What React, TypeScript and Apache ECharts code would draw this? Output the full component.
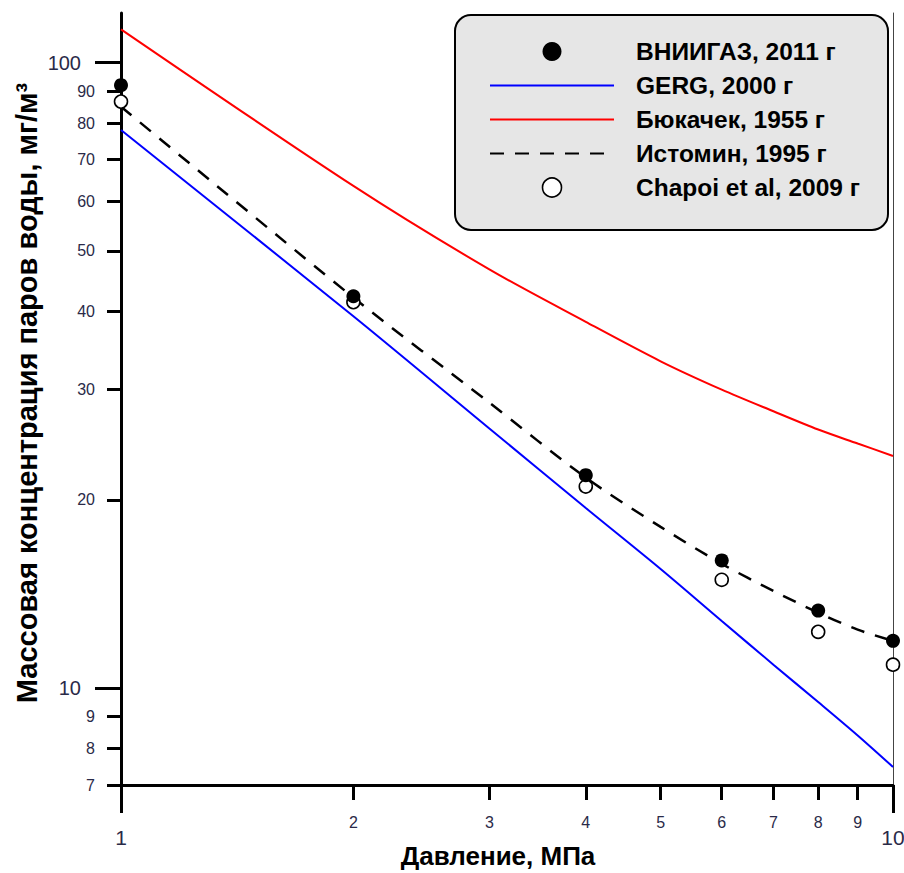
import React, { useEffect, useRef } from "react";
import * as echarts from "echarts";

// ---- data ----
const pressure = [1, 2, 3, 4, 5, 6, 7, 8, 9, 10];
const pointPressure = [1, 2, 4, 6, 8, 10];
const vniigazValues = [92, 42.3, 21.9, 16.0, 13.3, 11.9];
const chapoiValues = [86.6, 41.4, 21.0, 14.9, 12.3, 10.9];
const gergValues = [78, 39.3, 26, 19.4, 15.5, 12.8, 10.9, 9.5, 8.4, 7.48];
const bukachekValues = [113, 63.5, 46.7, 38.5, 33.3, 30.0, 27.7, 25.9, 24.6, 23.5];
const istominValues = [85, 42.1, 28.6, 21.7, 18.1, 15.8, 14.3, 13.2, 12.4, 11.9];

const xMajorTicks = [1, 10];
const xMinorTicks = [2, 3, 4, 5, 6, 7, 8, 9];
const yMajorTicks = [10, 100];
const yMinorTicks = [7, 8, 9, 20, 30, 40, 50, 60, 70, 80, 90];

const seriesNames = [
  "ВНИИГАЗ, 2011 г",
  "GERG, 2000 г",
  "Бюкачек, 1955 г",
  "Истомин, 1995 г",
  "Chapoi et al, 2009 г",
];

const xTitle = "Давление, МПа";
const yTitle = "Массовая концентрация паров воды, мг/м³";

const FONT = "'Liberation Sans', Arial, sans-serif";
const LABEL_COLOR = "#2a2a48";

const zip = (xs: number[], ys: number[]) => xs.map((x, i) => [x, ys[i]]);

export default function App() {
  const ref = useRef<HTMLDivElement>(null);

  useEffect(() => {
    if (!ref.current) return;
    const chart = echarts.init(ref.current, null, { renderer: "svg" });

    const xBase = { type: "log", logBase: 10, min: 1, max: 10, gridIndex: 0, position: "bottom", splitLine: { show: false } };
    const yBase = { type: "log", logBase: 10, min: 7, max: 120, gridIndex: 0, splitLine: { show: false } };
    const intLabel = (v: number) => String(Math.round(v));

    const option: any = {
      animation: false,
      backgroundColor: "#fff",
      grid: { left: 121, right: 11, top: 13, bottom: 88, containLabel: false, outerBoundsMode: "none" },
      xAxis: [
        {
          ...xBase,
          name: xTitle,
          nameLocation: "middle",
          nameGap: 58,
          nameMoveOverlap: false,
          nameTextStyle: { fontFamily: FONT, fontWeight: "bold", fontSize: 26, color: "#000", padding: [0, 18, 0, 0] },
          axisLine: { show: true, lineStyle: { color: "#000", width: 3 } },
          axisTick: { show: true, customValues: xMajorTicks, length: 28, lineStyle: { color: "#000", width: 3 } },
          axisLabel: { show: true, customValues: xMajorTicks, margin: 42, fontFamily: FONT, fontSize: 21, color: LABEL_COLOR, formatter: intLabel },
        },
        {
          ...xBase,
          axisLine: { show: false },
          axisTick: { show: true, customValues: xMinorTicks, length: 15, lineStyle: { color: "#000", width: 3 } },
          axisLabel: { show: true, customValues: xMinorTicks, margin: 29, fontFamily: FONT, fontSize: 16, color: LABEL_COLOR, formatter: intLabel },
        },
      ],
      yAxis: [
        {
          ...yBase,
          position: "left",
          name: yTitle,
          nameLocation: "middle",
          nameRotate: 90,
          nameGap: 80,
          nameMoveOverlap: false,
          nameTextStyle: { fontFamily: FONT, fontWeight: "bold", fontSize: 29, color: "#000", padding: [0, 0, 0, 12] },
          axisLine: { show: true, lineStyle: { color: "#000", width: 3 } },
          axisTick: { show: true, customValues: yMajorTicks, length: 26, lineStyle: { color: "#000", width: 3 } },
          axisLabel: { show: true, customValues: yMajorTicks, margin: 40, fontFamily: FONT, fontSize: 20, color: LABEL_COLOR, formatter: intLabel },
        },
        {
          ...yBase,
          position: "left",
          offset: 0,
          axisLine: { show: false },
          axisTick: { show: true, customValues: yMinorTicks, length: 14, lineStyle: { color: "#000", width: 3 } },
          axisLabel: { show: true, customValues: yMinorTicks, margin: 26, fontFamily: FONT, fontSize: 16, color: LABEL_COLOR, formatter: intLabel },
        },
        {
          ...yBase,
          position: "right",
          offset: 0,
          axisLine: { show: true, lineStyle: { color: "#444", width: 1 } },
          axisTick: { show: false },
          axisLabel: { show: false },
        },
      ],
      legend: {
        orient: "vertical",
        left: 489,
        top: 39,
        padding: 0,
        itemWidth: 124,
        itemHeight: 19,
        itemGap: 9,
        selectedMode: false,
        z: 4,
        textStyle: { fontFamily: FONT, fontWeight: "bold", fontSize: 24.5, color: "#000", padding: [0, 0, 0, 17] },
        data: [
          { name: seriesNames[0], itemStyle: { color: "#000", borderWidth: 0, opacity: 1 } },
          { name: seriesNames[1], itemStyle: { opacity: 0 } },
          { name: seriesNames[2], itemStyle: { opacity: 0 } },
          { name: seriesNames[3], itemStyle: { opacity: 0 } },
          { name: seriesNames[4], itemStyle: { color: "#fff", borderColor: "#000", borderWidth: 1.6, opacity: 1 } },
        ],
      },
      graphic: [
        {
          type: "rect",
          z: 3,
          shape: { x: 455, y: 15, width: 433, height: 215, r: 16 },
          style: { fill: "#e6e6e6", stroke: "#000", lineWidth: 2 },
        },
      ],
      series: [
        {
          name: seriesNames[0],
          type: "scatter",
          xAxisIndex: 0,
          yAxisIndex: 0,
          data: zip(pointPressure, vniigazValues),
          symbol: "circle",
          symbolSize: 14,
          itemStyle: { color: "#000", opacity: 1 },
          z: 6,
        },
        {
          name: seriesNames[1],
          type: "line",
          xAxisIndex: 0,
          yAxisIndex: 0,
          data: zip(pressure, gergValues),
          symbol: "none",
          smooth: 0.3,
          lineStyle: { color: "#0000ff", width: 2 },
          itemStyle: { color: "#0000ff" },
          z: 2,
        },
        {
          name: seriesNames[2],
          type: "line",
          xAxisIndex: 0,
          yAxisIndex: 0,
          data: zip(pressure, bukachekValues),
          symbol: "none",
          smooth: 0.3,
          lineStyle: { color: "#ff0000", width: 2 },
          itemStyle: { color: "#ff0000" },
          z: 2,
        },
        {
          name: seriesNames[3],
          type: "line",
          xAxisIndex: 0,
          yAxisIndex: 0,
          data: zip(pressure, istominValues),
          symbol: "none",
          smooth: 0.3,
          lineStyle: { color: "#000", width: 2.5, type: [14, 11] },
          itemStyle: { color: "#000" },
          z: 3,
        },
        {
          name: seriesNames[4],
          type: "scatter",
          xAxisIndex: 0,
          yAxisIndex: 0,
          data: zip(pointPressure, chapoiValues),
          symbol: "circle",
          symbolSize: 13,
          itemStyle: { color: "#fff", borderColor: "#000", borderWidth: 1.6, opacity: 1 },
          z: 5,
        },
      ],
    };

    chart.setOption(option);
    return () => chart.dispose();
  }, []);

  return (
    <div
      ref={ref}
      style={{ position: "fixed", left: 0, top: 0, width: 904, height: 873, background: "#fff" }}
    />
  );
}
